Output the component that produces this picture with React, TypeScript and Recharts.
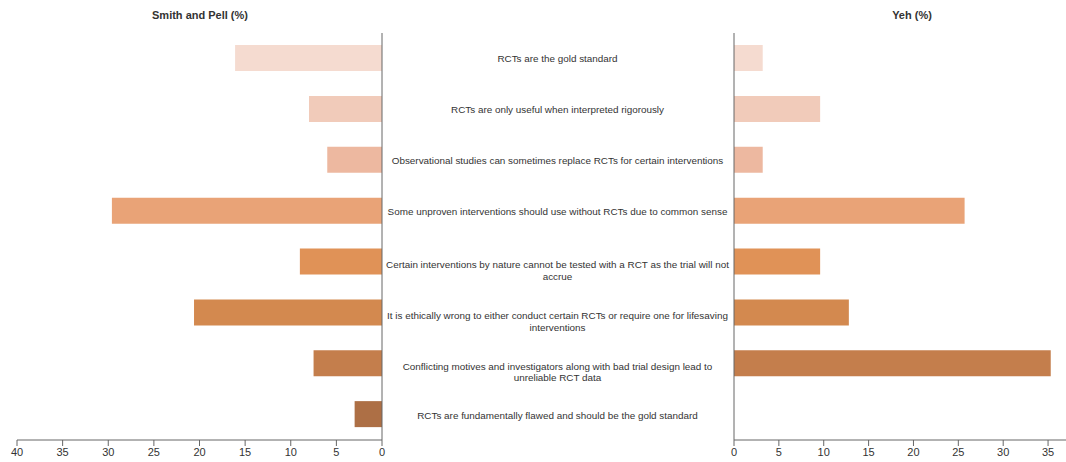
import { BarChart, Bar, XAxis, YAxis, Cell } from 'recharts'

const statements = [
  'RCTs are the gold standard',
  'RCTs are only useful when interpreted rigorously',
  'Observational studies can sometimes replace RCTs for certain interventions',
  'Some unproven interventions should use without RCTs due to common sense',
  'Certain interventions by nature cannot be tested with a RCT as the trial will not accrue',
  'It is ethically wrong to either conduct certain RCTs or require one for lifesaving interventions',
  'Conflicting motives and investigators along with bad trial design lead to unreliable RCT data',
  'RCTs are fundamentally flawed and should be the gold standard',
]
const smithPell = [16.1, 8.0, 6.0, 29.6, 9.0, 20.6, 7.5, 3.0]
const yeh = [3.2, 9.6, 3.2, 25.7, 9.6, 12.8, 35.3, 0]
const leftTicks = [0, 5, 10, 15, 20, 25, 30, 35, 40]
const rightTicks = [0, 5, 10, 15, 20, 25, 30, 35]
const shades = ['#F5DBD0', '#F1CBBA', '#EDB8A0', '#E9A377', '#E09257', '#D3894F', '#C47E4C', '#AD6F45']

const data = statements.map((s, i) => ({ statement: s, smithPell: smithPell[i], yeh: yeh[i] }))

const FONT = '"Liberation Sans", Arial, sans-serif'
const axisColor = '#666'
const tickStyle = { fontSize: 11, fill: '#333', fontFamily: FONT }
const labelFontSize = 9.9

// wrap a label into lines no wider than maxWidth, measured on a canvas
let ctx: CanvasRenderingContext2D | null = null
const wrap = (text: string, maxWidth: number) => {
  if (!ctx) {
    ctx = document.createElement('canvas').getContext('2d')
  }
  ctx!.font = `${labelFontSize}px "Liberation Sans"`
  const lines: string[] = []
  let line = ''
  for (const word of text.split(' ')) {
    const test = line ? line + ' ' + word : word
    if (line && ctx!.measureText(test).width > maxWidth) {
      lines.push(line)
      line = word
    } else {
      line = test
    }
  }
  if (line) lines.push(line)
  return lines
}

const StatementTick = (props: any) => {
  const { x, y, payload } = props
  const lines = wrap(payload.value, 346)
  const lh = 11.5
  const y0 = y - ((lines.length - 1) * lh) / 2 + (lines.length - 1) * 8
  return (
    <text x={x + 175.5} y={y0} textAnchor="middle" dominantBaseline="central"
      style={{ fontSize: labelFontSize, fill: '#333', fontFamily: FONT }}>
      {lines.map((l, i) => (
        <tspan key={i} x={x + 175.5} y={y0 + i * lh}>{l}</tspan>
      ))}
    </text>
  )
}

export default function App() {
  return (
    <div style={{ position: 'absolute', left: 0, top: 0, width: 1066, height: 462, background: '#fff', fontFamily: FONT }}>
      <div style={{ position: 'absolute', left: 0, width: 400, top: 9, textAlign: 'center', fontSize: 11, fontWeight: 'bold', color: '#333' }}>
        Smith and Pell (%)
      </div>
      <div style={{ position: 'absolute', left: 812, width: 200, top: 9, textAlign: 'center', fontSize: 11, fontWeight: 'bold', color: '#333' }}>
        Yeh (%)
      </div>

      <div style={{ position: 'absolute', left: 0, top: 0 }}>
        <BarChart width={733} height={462} data={data} layout="vertical" barSize={26}
          margin={{ top: 33, right: 0, left: 17, bottom: 0 }}>
          <XAxis type="number" domain={[0, 40]} ticks={leftTicks} reversed height={22}
            stroke={axisColor} tick={tickStyle} tickSize={6} tickMargin={2} allowDataOverflow />
          <YAxis type="category" dataKey="statement" orientation="right" width={351}
            stroke={axisColor} tickLine={false} tickSize={0} tickMargin={0} tick={<StatementTick />} interval={0} />
          <Bar dataKey="smithPell" isAnimationActive={false}>
            {data.map((_, i) => <Cell key={i} fill={shades[i]} />)}
          </Bar>
        </BarChart>
      </div>

      <div style={{ position: 'absolute', left: 700, top: 0 }}>
        <BarChart width={366} height={462} data={data} layout="vertical" barSize={26}
          margin={{ top: 33, right: 0, left: 33, bottom: 0 }}>
          <XAxis type="number" domain={[0, 37]} ticks={rightTicks} height={22}
            stroke={axisColor} tick={tickStyle} tickSize={6} tickMargin={2} allowDataOverflow />
          <YAxis type="category" dataKey="statement" width={1} stroke={axisColor} tick={false} tickLine={false} />
          <Bar dataKey="yeh" isAnimationActive={false}>
            {data.map((_, i) => <Cell key={i} fill={shades[i]} />)}
          </Bar>
        </BarChart>
      </div>
    </div>
  )
}
